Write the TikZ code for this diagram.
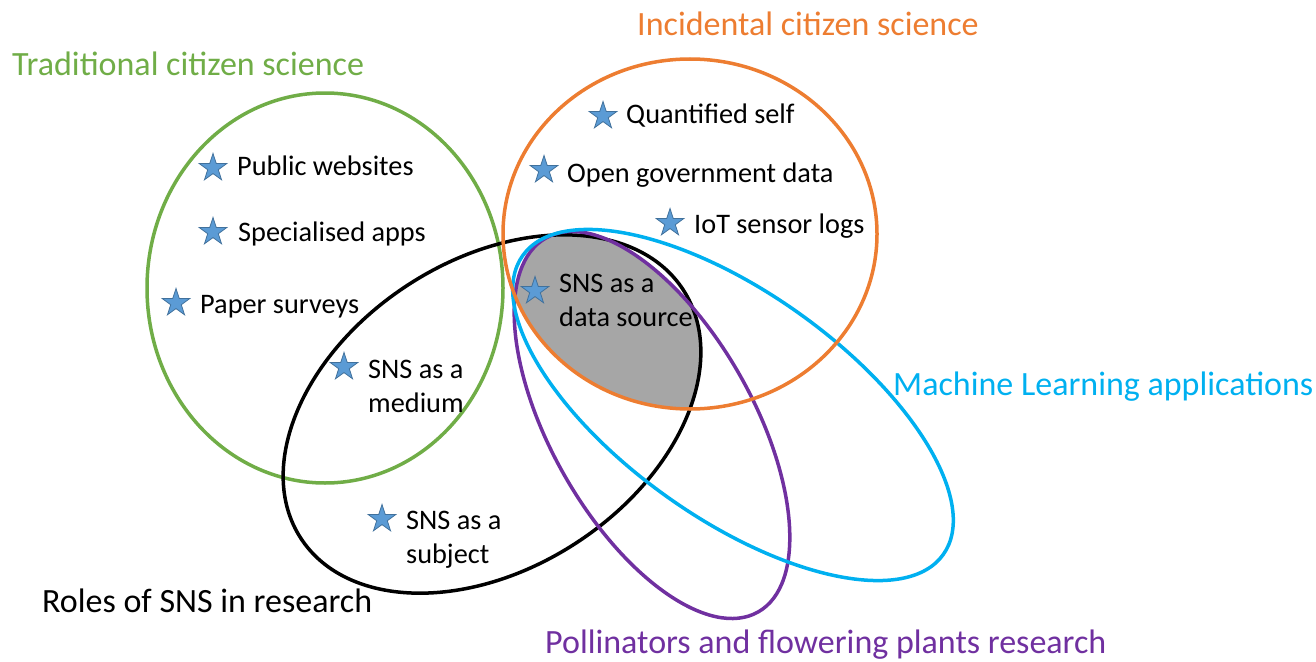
\documentclass[tikz,border=0pt]{standalone}
\usepackage{fontspec}
\setmainfont{Carlito}
\usetikzlibrary{shapes.geometric}
\definecolor{tradgreen}{HTML}{70AD47}
\definecolor{incorange}{HTML}{ED7D31}
\definecolor{mlcyan}{HTML}{00B0F0}
\definecolor{pollpurple}{HTML}{7030A0}
\definecolor{starblue}{HTML}{5B9BD5}
\definecolor{staredge}{HTML}{41719C}
\definecolor{overlapgray}{HTML}{A6A6A6}

\begin{document}
\begin{tikzpicture}[
  x=1pt, y=-1pt,
  venn/.style={line width=3.5pt},
  starmark/.style={star,star points=5,star point ratio=2.6,draw=staredge,
    fill=starblue,line width=0.8pt,minimum size=29pt,inner sep=0pt},
  item/.style={font=\fontsize{28.3}{34}\selectfont,inner sep=0pt,
    anchor=base west,align=left},
  title/.style={font=\fontsize{34}{40}\selectfont,inner sep=0pt,anchor=base west}
]
  \useasboundingbox (0,0) rectangle (1316,661);

  % shaded overlap of the four sets
  \begin{scope}
    \clip (492,414) circle [x radius=228, y radius=154, rotate=33];
    \clip (690,234) circle [x radius=187, y radius=175];
    \clip (733,405) circle [x radius=258, y radius=113, rotate=-35.4];
    \fill[overlapgray] (652,425) circle [x radius=215, y radius=101, rotate=-60.4];
  \end{scope}

  \draw[venn,tradgreen] (325,288) circle [x radius=178, y radius=195];
  \draw[venn,black] (492,414) circle [x radius=228, y radius=154, rotate=33];
  \draw[venn,pollpurple] (652,425) circle [x radius=215, y radius=101, rotate=-60.4];
  \draw[venn,mlcyan] (733,405) circle [x radius=258, y radius=113, rotate=-35.4];
  \draw[venn,incorange] (690,234) circle [x radius=187, y radius=175];

  % items; two-line texts sit on the baseline of their last line
  \node[starmark] (pubstar) at (213,168) {};
  \node[item] (pub) at (237,175) {Public websites};
  \node[starmark] (appstar) at (213,232) {};
  \node[item] (app) at (238,241) {Specialised apps};
  \node[starmark] (paperstar) at (176,303) {};
  \node[item] (paper) at (200,313) {Paper surveys};
  \node[starmark] (medstar) at (344,367) {};
  \node[item] (med) at (368,412) {SNS as a\\medium};
  \node[starmark] (subjstar) at (382,519) {};
  \node[item] (subj) at (406,563) {SNS as a\\subject};
  \node[starmark] (qsstar) at (603,116) {};
  \node[item] (qs) at (626,123) {Quantified self};
  \node[starmark] (govstar) at (544,170) {};
  \node[item] (gov) at (567,182) {Open government data};
  \node[starmark] (iotstar) at (670,223) {};
  \node[item] (iot) at (694,233) {IoT sensor logs};
  \node[starmark] (srcstar) at (535,291) {};
  \node[item] (src) at (559,326) {SNS as a\\data source};

  \node[title,text=tradgreen] (tradtitle) at (12,75) {Traditional citizen science};
  \node[title,text=incorange] (inctitle) at (637,36) {Incidental citizen science};
  \node[title,text=mlcyan] (mltitle) at (893,395) {Machine Learning applications};
  \node[title,text=black] (snstitle) at (42,612) {Roles of SNS in research};
  \node[title,text=pollpurple] (polltitle) at (545,653) {Pollinators and flowering plants research};
\end{tikzpicture}
\end{document}
